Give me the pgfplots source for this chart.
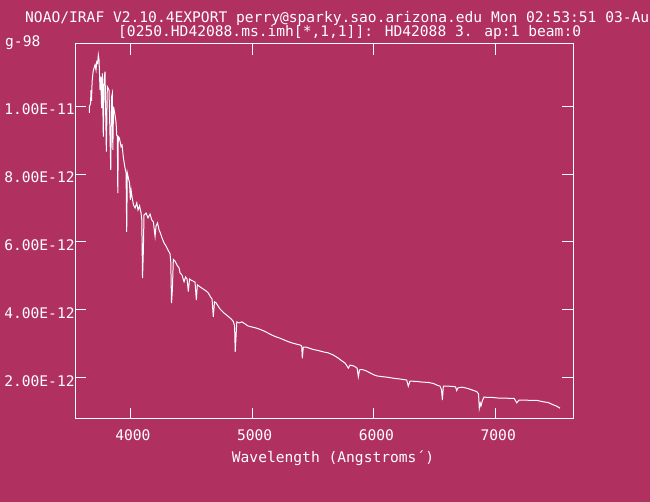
\documentclass[border=0pt]{standalone}
\usepackage{pgfplots}
\pgfplotsset{compat=1.18}
\usepackage{fontspec}
\newfontfamily\irfbase{DejaVu Sans Mono}
\newcommand{\irf}{\irfbase\fontsize{14.6pt}{17pt}\selectfont}
\definecolor{irafbg}{RGB}{176,48,96}
\begin{document}
\begin{tikzpicture}
\fill[irafbg] (0,0) rectangle (650pt,502pt);
\node[anchor=base west, inner sep=0pt, text=white, font=\irf] at (25pt,479.3pt) {NOAO/IRAF V2.10.4EXPORT perry@sparky.sao.arizona.edu Mon 02:53:51 03-Au};
\node[anchor=base west, inner sep=0pt, text=white, font=\irf] at (118pt,465.3pt) {[0250.HD42088.ms.imh[*,1,1]]: HD42088 3. ap:1 beam:0};
\node[anchor=base west, inner sep=0pt, text=white, font=\irf] at (5pt,455.3pt) {g-98};
\begin{axis}[
  at={(75.3pt,83pt)}, anchor=south west,
  scale only axis, width=498pt, height=375pt,
  xmin=3548, xmax=7637, ymin=0.794e-12, ymax=1.1824e-11,
  axis line style={white, line width=1pt},
  every tick/.style={white, line width=1pt},
  major tick length=11pt, tick align=inside,
  xtick pos=both, ytick pos=both,
  xtick={4000,5000,6000,7000}, xticklabels={4000,5000,6000,7000},
  ytick={2e-12,4e-12,6e-12,8e-12,1e-11},
  yticklabels={2.00E-12,4.00E-12,6.00E-12,8.00E-12,1.00E-11},
  scaled x ticks=false, scaled y ticks=false,
  xticklabel style={font=\irf, text=white, anchor=base, inner sep=0pt, yshift=-21.7pt, xshift=2.5pt},
  yticklabel style={font=\irf, text=white, anchor=base east, inner sep=0pt, yshift=-8.3pt, xshift=-0.5pt},
  xlabel={Wavelength (Angstroms´)},
  xlabel style={font=\irf, text=white, at={(axis description cs:0.5,0)}, anchor=base, inner sep=0pt, yshift=-44pt, xshift=8.7pt},
  clip=true,
]
\addplot[white, line width=1pt] coordinates {
(3663,9.80e-12)(3663,9.98e-12)(3673,10.06e-12)(3677,10.47e-12)(3681,10.15e-12)(3686,10.71e-12)
(3694,11.01e-12)(3702,11.12e-12)(3710,11.21e-12)(3718,11.06e-12)(3724,11.30e-12)(3731,11.26e-12)
(3737,11.50e-12)(3743,11.35e-12)(3751,10.47e-12)(3757,10.86e-12)(3764,9.94e-12)(3770,10.96e-12)
(3778,9.10e-12)(3784,10.76e-12)(3792,11.01e-12)(3803,8.66e-12)(3811,10.57e-12)(3825,10.47e-12)
(3839,8.12e-12)(3846,10.27e-12)(3852,10.37e-12)(3856,8.71e-12)(3862,9.98e-12)(3874,9.74e-12)
(3883,9.50e-12)(3888,9.15e-12)(3893,9.10e-12)(3897,7.44e-12)(3901,9.10e-12)(3910,9.06e-12)
(3924,8.80e-12)(3932,8.85e-12)(3943,8.47e-12)(3956,8.18e-12)(3965,8.03e-12)(3970,6.30e-12)
(3975,8.03e-12)(3984,7.88e-12)(3993,7.74e-12)(4000,7.24e-12)(4006,7.53e-12)(4014,7.32e-12)
(4026,7.09e-12)(4039,7.00e-12)(4053,7.15e-12)(4063,6.94e-12)(4076,7.06e-12)(4088,6.85e-12)
(4094,6.65e-12)(4100,4.94e-12)(4107,5.76e-12)(4112,6.79e-12)(4129,6.85e-12)(4145,6.71e-12)
(4162,6.82e-12)(4176,6.65e-12)(4189,6.59e-12)(4203,6.16e-12)(4211,6.47e-12)(4223,6.56e-12)
(4236,6.35e-12)(4244,6.29e-12)(4260,6.12e-12)(4277,5.97e-12)(4293,5.88e-12)(4310,5.76e-12)
(4326,5.65e-12)(4332,5.41e-12)(4338,4.20e-12)(4345,4.59e-12)(4353,5.49e-12)(4367,5.44e-12)
(4383,5.32e-12)(4400,5.24e-12)(4408,5.09e-12)(4424,5.03e-12)(4441,4.83e-12)(4453,4.97e-12)
(4466,4.91e-12)(4476,4.54e-12)(4486,4.91e-12)(4498,4.88e-12)(4515,4.85e-12)(4531,4.82e-12)
(4542,4.29e-12)(4550,4.74e-12)(4572,4.68e-12)(4597,4.62e-12)(4622,4.56e-12)(4640,4.50e-12)
(4654,4.41e-12)(4671,4.32e-12)(4681,3.80e-12)(4691,4.24e-12)(4704,4.21e-12)(4720,4.12e-12)
(4736,4.03e-12)(4753,3.97e-12)(4769,3.91e-12)(4791,3.85e-12)(4810,3.79e-12)(4827,3.74e-12)
(4846,3.66e-12)(4856,3.53e-12)(4861,2.77e-12)(4868,3.24e-12)(4874,3.65e-12)(4892,3.62e-12)
(4917,3.65e-12)(4942,3.59e-12)(4966,3.53e-12)(4999,3.50e-12)(5032,3.47e-12)(5065,3.43e-12)
(5098,3.38e-12)(5131,3.32e-12)(5163,3.26e-12)(5196,3.21e-12)(5229,3.17e-12)(5262,3.12e-12)
(5295,3.07e-12)(5328,3.03e-12)(5360,3.00e-12)(5393,2.97e-12)(5407,2.94e-12)(5412,2.58e-12)
(5420,2.91e-12)(5442,2.91e-12)(5467,2.88e-12)(5500,2.84e-12)(5541,2.81e-12)(5582,2.77e-12)
(5623,2.74e-12)(5664,2.68e-12)(5705,2.59e-12)(5738,2.50e-12)(5763,2.44e-12)(5790,2.29e-12)
(5804,2.38e-12)(5837,2.35e-12)(5862,2.29e-12)(5872,2.04e-12)(5882,2.24e-12)(5903,2.25e-12)
(5936,2.21e-12)(5968,2.15e-12)(6001,2.09e-12)(6026,2.06e-12)(6067,2.04e-12)(6116,2.02e-12)
(6165,1.99e-12)(6214,1.97e-12)(6269,1.94e-12)(6282,1.76e-12)(6296,1.91e-12)(6346,1.90e-12)
(6395,1.88e-12)(6444,1.87e-12)(6488,1.84e-12)(6518,1.79e-12)(6543,1.76e-12)(6555,1.65e-12)
(6562,1.35e-12)(6570,1.76e-12)(6609,1.76e-12)(6650,1.75e-12)(6670,1.74e-12)(6680,1.63e-12)
(6690,1.71e-12)(6723,1.73e-12)(6762,1.70e-12)(6797,1.66e-12)(6844,1.60e-12)(6859,1.53e-12)
(6865,1.11e-12)(6873,1.26e-12)(6879,1.18e-12)(6892,1.35e-12)(6904,1.44e-12)(6926,1.43e-12)
(6970,1.43e-12)(7019,1.41e-12)(7068,1.41e-12)(7118,1.40e-12)(7151,1.40e-12)(7173,1.27e-12)
(7191,1.35e-12)(7240,1.35e-12)(7290,1.34e-12)(7339,1.34e-12)(7391,1.30e-12)(7429,1.28e-12)
(7473,1.21e-12)(7495,1.18e-12)(7511,1.15e-12)(7528,1.11e-12)
};
\end{axis}
\pgfresetboundingbox
\path[use as bounding box] (0,0) rectangle (650pt,502pt);
\end{tikzpicture}
\end{document}
